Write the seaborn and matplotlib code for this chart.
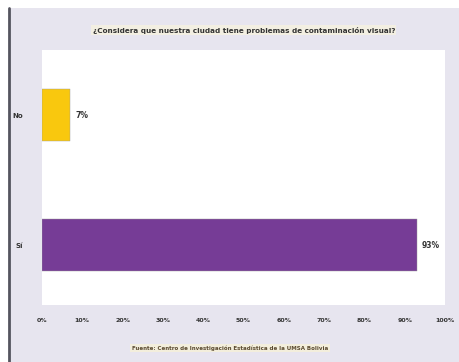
import matplotlib
matplotlib.use("Agg")
import matplotlib.pyplot as plt
import seaborn as sns
import pandas as pd
from matplotlib.patches import Rectangle
from matplotlib.lines import Line2D
from matplotlib.ticker import PercentFormatter

categories = ["No", "Sí"]
values = [7, 93]
colors = ["#F9C80E", "#763C96"]
x_ticks = [0, 10, 20, 30, 40, 50, 60, 70, 80, 90, 100]
title = "¿Considera que nuestra ciudad tiene problemas de contaminación visual?"
source = "Fuente: Centro de Investigación Estadística de la UMSA Bolivia"

df = pd.DataFrame({"cat": categories, "val": values})

sns.set_theme(style="white")
plt.rcParams['font.family'] = ['DejaVu Sans']

fig = plt.figure(figsize=(4.6, 3.62), dpi=100, facecolor="white")
# background axes: lavender panel and left border
bg = fig.add_axes([0, 0, 1, 1], zorder=-5)
bg.set_xlim(0, 460)
bg.set_ylim(362, 0)
bg.axis("off")
bg.add_patch(Rectangle((10, 8), 450, 354, facecolor="#E7E5EF", edgecolor="none"))
bg.add_line(Line2D([9, 9], [8, 362], color="#55555f", lw=2))

ax = fig.add_axes([42/460, 57/362, 403/460, 255/362], zorder=2)
ax.set_facecolor("white")
sns.barplot(data=df, x="val", y="cat", hue="cat", palette=colors, legend=False,
            orient="h", width=0.4, ax=ax, saturation=1,
            edgecolor="#999999", linewidth=0.3)
for sp in ax.spines.values():
    sp.set_visible(False)
ax.set_xlim(0, 100)
ax.set_ylim(1.46, -0.5)
ax.set_xticks(x_ticks)
ax.xaxis.set_major_formatter(PercentFormatter(decimals=0))
ax.tick_params(axis="x", labelsize=4.5, pad=9, length=0, colors="#333333")
ax.tick_params(axis="y", labelsize=5, pad=14, length=0, colors="#333333")
for lab in ax.get_xticklabels() + ax.get_yticklabels():
    lab.set_fontweight("bold")
ax.set_xlabel("")
ax.set_ylabel("")

for i, v in enumerate(values):
    ax.text(v + 1.3, i, f"{v}%", va="center", ha="left", fontsize=5.5,
            fontweight="bold", color="#333333")

fig.text(0.53, 1 - 30/362, title, ha="center", va="center", fontsize=5.2,
         fontweight="bold", color="#333333",
         bbox=dict(facecolor="#F3EFE2", edgecolor="none", pad=1))
fig.text(0.5, 1 - 348/362, source, ha="center", va="center", fontsize=4,
         fontweight="bold", color="#5a4a30",
         bbox=dict(facecolor="#F3EEDC", edgecolor="none", pad=1))

fig.savefig("out.png", dpi=100, facecolor="white")
